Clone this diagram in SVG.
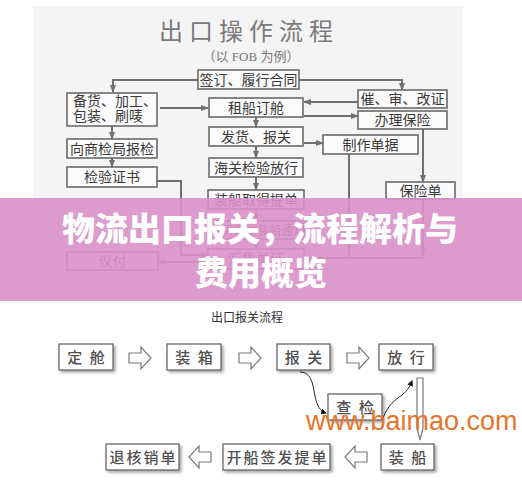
<svg xmlns="http://www.w3.org/2000/svg" width="522" height="501" viewBox="0 0 522 501">
<style>
.tb{fill:#fbfbfb;stroke:#6a6a6a;stroke-width:1.6}
.tt{font-family:"Noto Sans CJK SC","Liberation Sans",sans-serif;font-size:14px;fill:#3a3a3a;text-anchor:middle}
.ln{fill:none;stroke:#707070;stroke-width:2}
.bb{fill:#fff;stroke:#5a5a5a;stroke-width:1.2;filter:url(#sh)}
.bt{font-family:"Noto Sans CJK SC","Liberation Sans",sans-serif;font-size:15px;font-weight:500;fill:#505050;text-anchor:middle;letter-spacing:2px}
.ba{fill:#fff;stroke:#7a7a7a;stroke-width:1.2}
.cv{fill:none;stroke:#222;stroke-width:1}
</style>
<defs>
<marker id="ah" markerWidth="8" markerHeight="8" refX="7" refY="4" orient="auto" markerUnits="userSpaceOnUse"><path d="M0,1 L8,4 L0,7 Z" fill="#707070"/></marker>
<marker id="ak" markerWidth="6" markerHeight="6" refX="5" refY="3" orient="auto" markerUnits="userSpaceOnUse"><path d="M0,0 L6,3 L0,6 Z" fill="#111"/></marker>
<filter id="sh" x="-20%" y="-20%" width="150%" height="160%"><feDropShadow dx="2" dy="2" stdDeviation="1.8" flood-color="#000" flood-opacity="0.35"/></filter>
</defs>
<rect width="522" height="501" fill="#fff"/>
<rect x="33" y="6" width="430" height="286" fill="#f4f4f4"/>
<text x="249" y="40" font-family="Noto Sans CJK SC, Liberation Sans, sans-serif" font-size="24" fill="#7a7a7a" text-anchor="middle" letter-spacing="6">出口操作流程</text>
<text x="251" y="61" font-family="Liberation Serif, Noto Sans CJK SC, serif" font-size="13" fill="#777" text-anchor="middle">（以 FOB 为例）</text>

<g id="connectors">
<path class="ln" d="M198,80 H113 V92" marker-end="url(#ah)"/>
<path class="ln" d="M299,80 H402 V90" marker-end="url(#ah)"/>
<path class="ln" d="M160,108 H208" marker-end="url(#ah)"/>
<path class="ln" d="M358,102 H304" marker-end="url(#ah)"/>
<path class="ln" d="M304,116 H358" marker-end="url(#ah)"/>
<path class="ln" d="M256,117 V127" marker-end="url(#ah)"/>
<path class="ln" d="M304,143 H323" marker-end="url(#ah)"/>
<path class="ln" d="M256,146 V158" marker-end="url(#ah)"/>
<path class="ln" d="M112,126 V139" marker-end="url(#ah)"/>
<path class="ln" d="M112,158 V167" marker-end="url(#ah)"/>
<path class="ln" d="M157,181 H181 V255 H208" marker-end="url(#ah)"/>
<path class="ln" d="M256,177 V190" marker-end="url(#ah)"/>
<path class="ln" d="M256,209 V221" marker-end="url(#ah)"/>
<path class="ln" d="M256,239 V249" marker-end="url(#ah)"/>
<path class="ln" d="M208,262 H158" marker-end="url(#ah)"/>
<path class="ln" d="M423,129 V182" marker-end="url(#ah)"/>
<path class="ln" d="M423,199 V256" marker-end="url(#ah)"/>
<path class="ln" d="M349,154 V258"/>
<path class="ln" d="M423,258 H304"/>
<path class="cv" d="M300,372 C312,372 313,386 315,396 C317,406 320,411 326,413" marker-end="url(#ak)"/>
<path class="cv" d="M383,418 C388,405 395,400 402,395 C408,390 410,386 412,381" marker-end="url(#ak)"/>
<path class="ba" d="M129,353 h12 v-6 l10,11 l-10,11 v-6 h-12 z"/>
<path class="ba" d="M239,353 h12 v-6 l10,11 l-10,11 v-6 h-12 z"/>
<path class="ba" d="M347,353 h12 v-6 l10,11 l-10,11 v-6 h-12 z"/>
<path class="ba" d="M417,378 H423 V428 L420,440 L417,428 Z"/>
<path class="ba" d="M367,452 h-12 v-6 l-10,11 l10,11 v-6 h12 z"/>
<path class="ba" d="M211,452 h-12 v-6 l-10,11 l10,11 v-6 h12 z"/>
</g>

<g id="n-sign"><rect class="tb" x="198" y="70" width="101" height="19"/><text class="tt" x="248.5" y="85">签订、履行合同</text></g>
<g id="n-prep"><rect class="tb" x="67" y="93" width="90" height="33"/><text class="tt" x="73" y="106" style="text-anchor:start">备货、加工、</text><text class="tt" x="73" y="121" style="text-anchor:start">包装、刷唛</text></g>
<g id="n-ship"><rect class="tb" x="209" y="98" width="94" height="19"/><text class="tt" x="256" y="113">租船订舱</text></g>
<g id="n-lc"><rect class="tb" x="358" y="90" width="89" height="18"/><text class="tt" x="402.5" y="104">催、审、改证</text></g>
<g id="n-ins"><rect class="tb" x="358" y="111" width="89" height="18"/><text class="tt" x="402.5" y="125">办理保险</text></g>
<g id="n-decl"><rect class="tb" x="209" y="127" width="94" height="19"/><text class="tt" x="256" y="142">发货、报关</text></g>
<g id="n-docs"><rect class="tb" x="323" y="135" width="95" height="19"/><text class="tt" x="370.5" y="150">制作单据</text></g>
<g id="n-customs"><rect class="tb" x="209" y="158" width="94" height="19"/><text class="tt" x="256" y="173">海关检验放行</text></g>
<g id="n-insp"><rect class="tb" x="67" y="139" width="90" height="19"/><text class="tt" x="112" y="154">向商检局报检</text></g>
<g id="n-cert"><rect class="tb" x="67" y="167" width="90" height="20"/><text class="tt" x="112" y="182">检验证书</text></g>
<g id="n-bl"><rect class="tb" x="208" y="190" width="96" height="19"/><text class="tt" x="256" y="205">装船取得提单</text></g>
<g id="n-notice"><rect class="tb" x="208" y="221" width="96" height="18"/><text class="tt" x="209" y="235" style="font-size:12px;text-anchor:start">向买方发装船通知</text></g>
<g id="n-collect"><rect class="tb" x="208" y="249" width="96" height="20"/><text class="tt" x="256" y="264">汇集单证</text></g>
<g id="n-nego"><rect class="tb" x="67" y="252" width="91" height="18"/><text class="tt" x="112.5" y="266">议付</text></g>
<g id="n-policy"><rect class="tb" x="386" y="182" width="69" height="17"/><text class="tt" x="420.5" y="196">保险单</text></g>

<text x="247" y="322" font-family="Noto Sans CJK SC, Liberation Sans, sans-serif" font-size="12" fill="#333" text-anchor="middle">出口报关流程</text>

<g id="b-book"><rect class="bb" x="59" y="344" width="54" height="26"/><text class="bt" x="87" y="363">定 舱</text></g>
<g id="b-pack"><rect class="bb" x="167" y="344" width="54" height="26"/><text class="bt" x="195" y="363">装 箱</text></g>
<g id="b-decl"><rect class="bb" x="277" y="344" width="53" height="26"/><text class="bt" x="304.5" y="363">报 关</text></g>
<g id="b-rel"><rect class="bb" x="379" y="344" width="54" height="26"/><text class="bt" x="407" y="363">放 行</text></g>
<g id="b-check"><rect class="bb" x="328" y="394" width="54" height="26"/><text class="bt" x="356" y="413">查 检</text></g>
<g id="b-load"><rect class="bb" x="381" y="444" width="53" height="26"/><text class="bt" x="408.5" y="463">装 船</text></g>
<g id="b-bl"><rect class="bb" x="223" y="444" width="107" height="26"/><text class="bt" x="277.5" y="463">开船签发提单</text></g>
<g id="b-ret"><rect class="bb" x="106" y="444" width="73" height="26"/><text class="bt" x="143.5" y="463">退核销单</text></g>

<text x="306" y="430" font-family="Liberation Sans, Arial, sans-serif" font-size="27" fill="#e8742c">www.baimao.com</text>

<rect x="0" y="198" width="522" height="103" fill="rgb(218,144,200)" fill-opacity="0.9"/>
<text x="260" y="241" font-family="Noto Sans CJK SC, sans-serif" font-size="33" font-weight="900" fill="#fff" text-anchor="middle">物流出口报关，流程解析与</text>
<text x="261" y="285" font-family="Noto Sans CJK SC, sans-serif" font-size="33" font-weight="900" fill="#fff" text-anchor="middle">费用概览</text>
</svg>
